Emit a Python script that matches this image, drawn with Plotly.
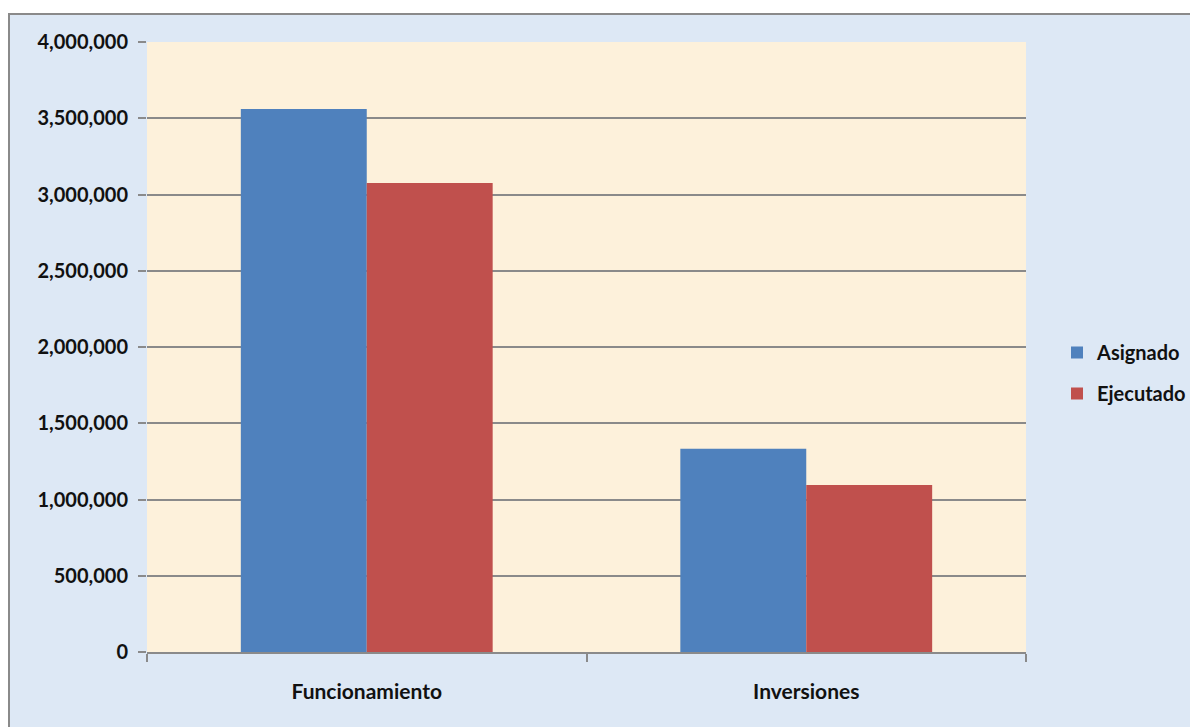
import plotly.graph_objects as go

categories = ["Funcionamiento", "Inversiones"]
asignado = [3560000, 1332000]
ejecutado = [3075000, 1095000]
series_names = ["Asignado", "Ejecutado"]
y_ticks = [0, 500000, 1000000, 1500000, 2000000, 2500000, 3000000, 3500000, 4000000]

W, H = 1198, 727
# page body adds ~7px offset; margins compensate
OFF = 7
ML, MT = 146 - OFF, 41 - OFF
MR = W - (1025 - OFF)
MB = H - (651 - OFF)
pw, ph = W - ML - MR, H - MT - MB

font_family = "Lato, 'Open Sans', sans-serif"
txt_color = "#111111"

fig = go.Figure()
fig.add_trace(go.Bar(x=categories, y=asignado, name=series_names[0],
                     marker=dict(color="#4f81bd", line=dict(width=0)),
                     legendgroup="a"))
fig.add_trace(go.Bar(x=categories, y=ejecutado, name=series_names[1],
                     marker=dict(color="#c0504d", line=dict(width=0)),
                     legendgroup="b"))

fig.update_layout(
    width=W, height=H,
    margin=dict(l=ML, r=MR, t=MT, b=MB, pad=0),
    paper_bgcolor="white",
    plot_bgcolor="rgba(0,0,0,0)",
    barmode="group",
    bargap=0.427,
    bargroupgap=0,
    font=dict(family=font_family, size=18, color=txt_color),
    legend=dict(x=(1056 - OFF - ML) / pw, y=1 - (372 - OFF - MT) / ph,
                xanchor="left", yanchor="middle",
                font=dict(size=20, family=font_family, color=txt_color, weight="bold"),
                tracegroupgap=12, bgcolor="rgba(0,0,0,0)", itemwidth=30),
    showlegend=True,
    shapes=[
        dict(type="rect", xref="paper", yref="paper", layer="below",
             x0=(8 - OFF - ML) / pw, x1=1.5, y0=-0.5, y1=1 + (MT - (13 - OFF)) / ph,
             fillcolor="#dde8f5", line=dict(color="#8a8a8a", width=2)),
        dict(type="rect", xref="paper", yref="paper", layer="below",
             x0=0, x1=1, y0=0, y1=1,
             fillcolor="#fdf1db", line=dict(width=0)),
    ],
)

fig.update_yaxes(
    range=[0, 4000000], tickvals=y_ticks, tickformat=",",
    showgrid=True, gridcolor="#8a8a8a", gridwidth=1.5,
    ticks="outside", ticklen=8, tickcolor="#8a8a8a", tickwidth=1.5,
    showline=False, zeroline=False,
    tickfont=dict(size=20, family=font_family, color=txt_color, weight="bold"),
    ticklabelstandoff=6,
)
fig.update_xaxes(
    showline=True, linecolor="#8a8a8a", linewidth=2,
    ticks="outside", tickson="boundaries", ticklen=8, tickcolor="#8a8a8a", tickwidth=1.5,
    tickfont=dict(size=21, family=font_family, color=txt_color, weight="bold"),
    ticklabelstandoff=20,
)

fig.write_html("out.html")
